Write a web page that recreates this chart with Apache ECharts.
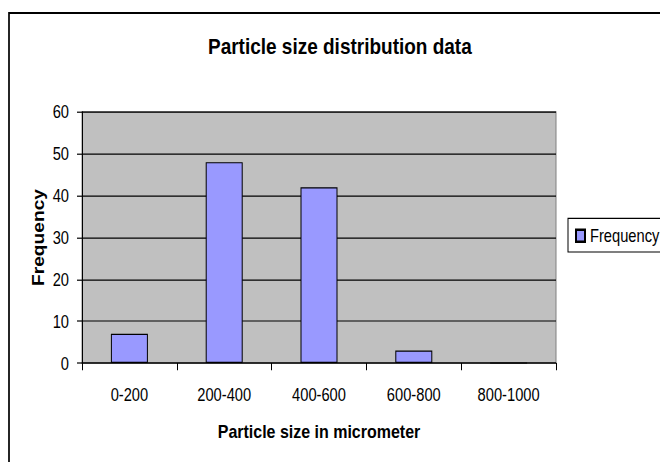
<!DOCTYPE html>
<html>
<head>
<meta charset="utf-8">
<script src="https://cdn.jsdelivr.net/npm/echarts@6/dist/echarts.min.js"></script>
<style>
  html { margin: 0; padding: 0; background: #ffffff; overflow: hidden; width: 660px; height: 462px; }
  body { margin: 0; padding: 0; background: #ffffff; width: 660px; height: 462px; }
  #main { width: 660px; height: 385px; transform: scaleY(1.2); transform-origin: 0 0; }
</style>
</head>
<body>
<div id="main"></div>
<script>
const titleText = 'Particle size distribution data';
const xAxisTitle = 'Particle size in micrometer';
const yAxisTitle = 'Frequency';
const seriesName = 'Frequency';
const categories = ['0-200', '200-400', '400-600', '600-800', '800-1000'];
const frequency = [7, 48, 42, 3, 0];
const yTicks = { min: 0, max: 60, interval: 10 };

const FONT = "'Liberation Sans', Arial, sans-serif";
const chart = echarts.init(document.getElementById('main'), null, { renderer: 'svg' });

chart.setOption({
  backgroundColor: '#ffffff',
  animation: false,
  title: {
    text: titleText,
    left: 208,
    top: 29,
    padding: 0,
    textStyle: { fontFamily: FONT, fontSize: 19, fontWeight: 'bold', color: '#000' }
  },
  legend: {
    data: [seriesName],
    orient: 'vertical',
    left: 568,
    top: 182,
    padding: [7, 10, 6, 7],
    borderColor: '#000',
    borderWidth: 1,
    icon: 'rect',
    itemWidth: 9,
    itemHeight: 10,
    itemGap: 0,
    textStyle: { fontFamily: FONT, fontSize: 14.7, color: '#000' }
  },
  grid: {
    left: 82,
    top: 93.3,
    right: 104,
    bottom: 82.5,
    show: true,
    backgroundColor: '#c0c0c0',
    borderColor: '#808080',
    borderWidth: 1,
    containLabel: false
  },
  xAxis: {
    type: 'category',
    data: categories,
    name: xAxisTitle,
    nameLocation: 'middle',
    nameGap: 49,
    nameMoveOverlap: false,
    nameTextStyle: { fontFamily: FONT, fontSize: 16, fontWeight: 'bold', color: '#000' },
    axisLine: { show: true, lineStyle: { color: '#000', width: 1 } },
    axisTick: { show: true, length: 6, alignWithLabel: false, lineStyle: { color: '#000' } },
    axisLabel: { margin: 19, fontFamily: FONT, fontSize: 14.7, color: '#000', interval: 0 },
    splitLine: { show: false }
  },
  yAxis: {
    type: 'value',
    min: yTicks.min,
    max: yTicks.max,
    interval: yTicks.interval,
    name: yAxisTitle,
    nameLocation: 'middle',
    nameGap: 35,
    nameMoveOverlap: false,
    nameTextStyle: { fontFamily: FONT, fontSize: 16, fontWeight: 'bold', color: '#000' },
    axisLine: { show: true, lineStyle: { color: '#000', width: 1 } },
    axisTick: { show: true, length: 5, lineStyle: { color: '#000' } },
    axisLabel: { margin: 13, fontFamily: FONT, fontSize: 14.7, color: '#000' },
    splitLine: { show: true, lineStyle: { color: '#000', width: 1 } }
  },
  graphic: [{
    type: 'rect',
    silent: true,
    z: 100,
    shape: { x: 9, y: 10.8, width: 800, height: 600 },
    style: { fill: 'none', stroke: '#000', lineWidth: 1.7 }
  }],
  series: [{
    name: seriesName,
    type: 'bar',
    data: frequency,
    barWidth: 37,
    itemStyle: { color: '#9999ff', borderColor: '#000', borderWidth: 1 }
  }]
});
</script>
</body>
</html>
